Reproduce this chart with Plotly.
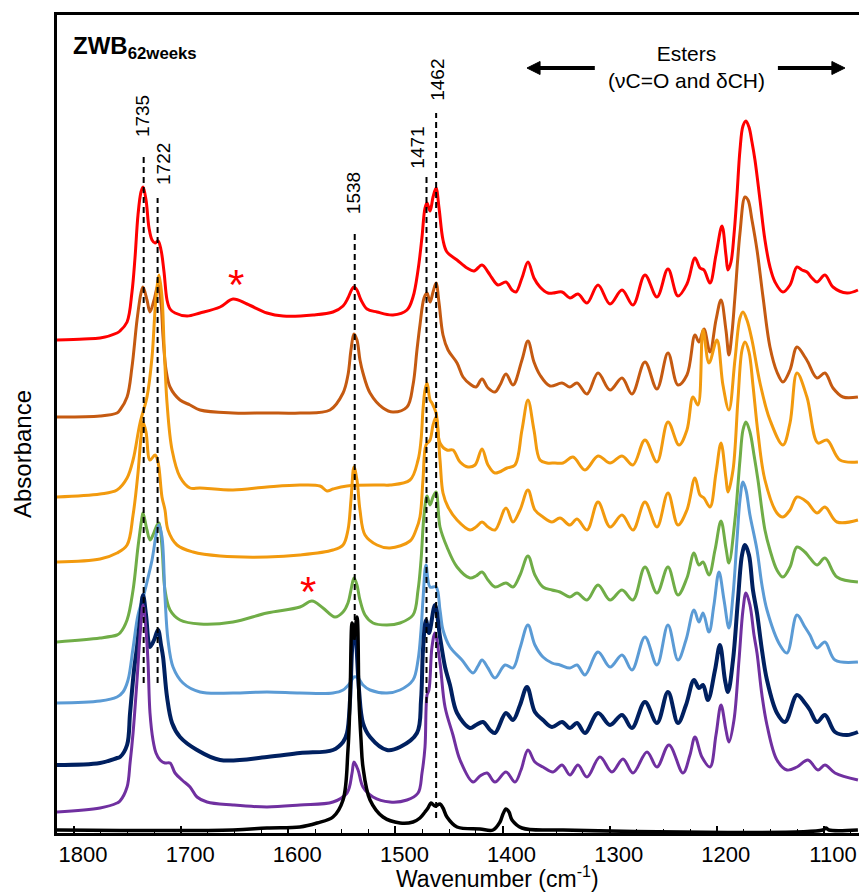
import plotly.graph_objects as go

# ---------------- data (wavenumber in cm-1, absorbance in offset arbitrary units) ----------------
wn_red = [1816.8, 1790.7, 1775.7, 1759.9, 1757.1, 1750.5, 1745.9, 1743.1, 1740.3, 1737.5, 1735.6, 1732.8, 1730.0, 1727.2, 1724.4, 1721.6, 1718.8, 1716.0, 1713.2, 1710.4, 1705.7, 1694.5, 1682.4, 1663.7, 1651.6, 1638.5, 1619.9, 1604.9, 1576.9, 1558.3, 1548.9, 1544.3, 1540.5, 1538.7, 1535.9, 1532.1, 1526.5, 1517.2, 1502.3, 1489.2, 1483.6, 1478.9, 1475.2, 1472.4, 1470.5, 1467.7, 1464.9, 1462.1, 1459.3, 1455.6, 1451.9, 1442.5, 1433.2, 1426.7, 1419.2, 1413.6, 1409.9, 1404.3, 1396.8, 1391.2, 1387.5, 1381.9, 1376.3, 1370.7, 1365.1, 1357.6, 1352.9, 1344.5, 1337.1, 1329.6, 1321.2, 1310.9, 1299.7, 1288.5, 1278.3, 1267.1, 1255.9, 1245.6, 1236.3, 1227.9, 1220.4, 1215.7, 1212.0, 1206.4, 1200.8, 1195.2, 1191.5, 1189.6, 1186.8, 1184.0, 1181.2, 1178.4, 1175.6, 1172.8, 1170.0, 1167.2, 1164.4, 1159.7, 1155.1, 1150.4, 1145.7, 1138.3, 1131.7, 1125.2, 1120.5, 1115.9, 1111.2, 1106.5, 1099.1, 1091.6, 1078.5, 1068.3]
abs_red = [4.93, 4.94, 4.95, 5.00, 5.02, 5.11, 5.41, 5.75, 6.18, 6.41, 6.46, 6.33, 6.05, 5.93, 5.90, 5.92, 5.83, 5.61, 5.33, 5.24, 5.20, 5.17, 5.20, 5.26, 5.34, 5.29, 5.20, 5.17, 5.18, 5.21, 5.27, 5.35, 5.44, 5.46, 5.43, 5.33, 5.24, 5.21, 5.18, 5.23, 5.36, 5.63, 5.96, 6.25, 6.30, 6.22, 6.36, 6.45, 6.25, 5.93, 5.81, 5.73, 5.65, 5.62, 5.68, 5.61, 5.55, 5.48, 5.51, 5.43, 5.41, 5.55, 5.71, 5.55, 5.46, 5.40, 5.40, 5.41, 5.35, 5.39, 5.30, 5.48, 5.29, 5.43, 5.28, 5.58, 5.36, 5.64, 5.37, 5.49, 5.75, 5.65, 5.63, 5.50, 5.78, 6.07, 5.78, 5.63, 5.71, 5.98, 6.38, 6.83, 7.07, 7.12, 7.06, 6.91, 6.73, 6.33, 5.93, 5.66, 5.51, 5.41, 5.48, 5.66, 5.63, 5.61, 5.55, 5.51, 5.58, 5.46, 5.40, 5.43]

wn_brown = [1816.8, 1775.7, 1759.9, 1757.1, 1750.5, 1745.9, 1741.2, 1737.5, 1735.6, 1731.9, 1729.1, 1725.3, 1721.6, 1718.8, 1716.9, 1714.1, 1710.4, 1701.1, 1691.7, 1682.4, 1651.6, 1619.9, 1589.1, 1561.1, 1548.9, 1544.3, 1541.5, 1538.7, 1535.9, 1533.1, 1530.3, 1523.7, 1511.6, 1502.3, 1489.2, 1483.6, 1479.9, 1477.1, 1473.3, 1470.5, 1467.7, 1464.9, 1462.1, 1459.3, 1455.6, 1450.9, 1442.5, 1436.9, 1430.4, 1424.8, 1419.2, 1413.6, 1407.1, 1402.4, 1396.8, 1390.3, 1381.9, 1376.3, 1370.7, 1365.1, 1355.7, 1344.5, 1337.1, 1330.5, 1321.2, 1310.9, 1299.7, 1288.5, 1279.2, 1267.1, 1255.9, 1245.6, 1236.3, 1227.9, 1220.4, 1216.7, 1212.0, 1206.4, 1200.8, 1196.1, 1191.5, 1188.7, 1185.9, 1183.1, 1178.4, 1173.7, 1170.9, 1167.2, 1162.5, 1156.9, 1150.4, 1143.9, 1138.3, 1131.7, 1125.2, 1117.8, 1115.0, 1106.5, 1099.1, 1091.6, 1082.3, 1068.3]
abs_brown = [4.16, 4.17, 4.20, 4.23, 4.36, 4.66, 5.13, 5.40, 5.46, 5.33, 5.21, 5.33, 5.48, 5.30, 4.96, 4.63, 4.46, 4.33, 4.28, 4.23, 4.20, 4.20, 4.20, 4.23, 4.40, 4.58, 4.83, 4.99, 4.93, 4.73, 4.60, 4.40, 4.25, 4.21, 4.26, 4.48, 4.83, 5.08, 5.35, 5.40, 5.31, 5.41, 5.50, 5.30, 4.98, 4.83, 4.70, 4.56, 4.49, 4.46, 4.54, 4.45, 4.41, 4.48, 4.59, 4.48, 4.73, 4.92, 4.71, 4.58, 4.47, 4.50, 4.46, 4.50, 4.39, 4.60, 4.43, 4.55, 4.39, 4.71, 4.44, 4.80, 4.48, 4.58, 4.98, 4.91, 5.04, 4.81, 5.13, 5.33, 5.03, 4.78, 5.00, 5.36, 6.00, 6.36, 6.33, 6.13, 5.83, 5.36, 4.86, 4.61, 4.51, 4.63, 4.86, 4.76, 4.71, 4.55, 4.60, 4.45, 4.36, 4.36]

wn_orange_a = [1816.8, 1775.7, 1759.9, 1750.5, 1744.9, 1738.4, 1731.9, 1727.2, 1724.4, 1722.5, 1720.7, 1717.9, 1716.0, 1713.2, 1708.5, 1701.1, 1691.7, 1682.4, 1651.6, 1619.9, 1589.1, 1570.4, 1563.9, 1558.3, 1545.2, 1514.4, 1505.1, 1486.4, 1478.9, 1476.1, 1474.3, 1472.4, 1470.5, 1467.7, 1465.9, 1462.1, 1458.4, 1451.9, 1446.3, 1439.7, 1432.3, 1425.7, 1419.2, 1413.6, 1407.1, 1395.8, 1388.4, 1381.9, 1376.3, 1370.7, 1365.1, 1358.5, 1351.1, 1343.6, 1334.3, 1323.1, 1310.9, 1299.7, 1288.5, 1278.3, 1267.1, 1255.9, 1245.6, 1235.3, 1227.9, 1222.3, 1217.6, 1212.9, 1207.3, 1199.9, 1194.3, 1188.7, 1183.1, 1178.4, 1175.6, 1171.9, 1167.2, 1159.7, 1150.4, 1138.3, 1131.7, 1125.2, 1115.9, 1105.6, 1097.2, 1085.1, 1068.3]
abs_orange_a = [3.36, 3.39, 3.43, 3.55, 3.73, 4.10, 4.36, 4.76, 5.23, 5.46, 5.58, 5.36, 4.90, 4.30, 3.83, 3.56, 3.45, 3.45, 3.43, 3.46, 3.48, 3.47, 3.42, 3.44, 3.47, 3.48, 3.48, 3.53, 3.73, 3.93, 4.23, 4.43, 4.50, 4.33, 4.30, 4.20, 3.90, 3.83, 3.83, 3.71, 3.66, 3.68, 3.84, 3.68, 3.60, 3.65, 3.68, 4.03, 4.33, 4.03, 3.73, 3.70, 3.70, 3.70, 3.76, 3.63, 3.77, 3.70, 3.77, 3.68, 3.93, 3.71, 4.11, 3.88, 4.03, 4.36, 4.28, 5.03, 4.70, 4.93, 4.48, 4.23, 4.73, 5.15, 5.21, 5.13, 4.93, 4.50, 4.13, 3.88, 4.10, 4.60, 4.36, 3.90, 3.93, 3.73, 3.71]

wn_orange_b = [1816.8, 1775.7, 1759.9, 1750.5, 1744.9, 1740.3, 1737.5, 1735.6, 1732.8, 1729.1, 1724.4, 1721.6, 1717.9, 1715.1, 1712.3, 1703.9, 1688.9, 1663.7, 1619.9, 1589.1, 1558.3, 1548.9, 1544.3, 1541.5, 1538.7, 1535.9, 1533.1, 1528.4, 1517.2, 1505.1, 1486.4, 1480.8, 1477.1, 1474.3, 1471.5, 1467.7, 1464.9, 1462.1, 1458.4, 1455.6, 1450.9, 1442.5, 1430.4, 1424.8, 1419.2, 1413.6, 1407.1, 1396.8, 1390.3, 1383.7, 1376.3, 1369.8, 1362.3, 1353.9, 1346.4, 1337.1, 1330.5, 1321.2, 1310.9, 1299.7, 1288.5, 1278.3, 1267.1, 1255.9, 1245.6, 1236.3, 1227.9, 1220.4, 1215.7, 1212.0, 1206.4, 1200.8, 1196.1, 1191.5, 1189.6, 1184.9, 1180.3, 1176.5, 1173.7, 1170.0, 1166.3, 1161.6, 1155.1, 1143.9, 1138.3, 1131.7, 1125.2, 1115.9, 1106.5, 1099.1, 1087.9, 1068.3]
abs_orange_b = [2.71, 2.74, 2.80, 2.88, 3.18, 3.60, 3.96, 4.11, 4.01, 3.73, 3.78, 3.71, 3.36, 3.23, 3.03, 2.88, 2.81, 2.77, 2.76, 2.78, 2.83, 2.88, 3.03, 3.33, 3.66, 3.53, 3.23, 2.98, 2.88, 2.85, 2.92, 3.03, 3.16, 3.53, 3.88, 3.93, 4.08, 4.16, 3.73, 3.40, 3.26, 3.13, 3.03, 3.06, 3.11, 3.06, 3.03, 3.25, 3.11, 3.23, 3.43, 3.23, 3.16, 3.11, 3.15, 3.08, 3.14, 3.03, 3.31, 3.06, 3.18, 3.03, 3.31, 3.06, 3.40, 3.08, 3.23, 3.55, 3.38, 3.35, 3.26, 3.60, 3.90, 3.55, 3.41, 3.63, 4.33, 4.83, 4.91, 4.81, 4.48, 4.00, 3.53, 3.20, 3.16, 3.23, 3.36, 3.31, 3.20, 3.26, 3.11, 3.13]

wn_green = [1816.8, 1775.7, 1759.9, 1757.1, 1750.5, 1744.9, 1740.3, 1736.5, 1735.6, 1731.9, 1729.1, 1726.3, 1722.5, 1720.7, 1717.9, 1715.1, 1710.4, 1701.1, 1682.4, 1651.6, 1619.9, 1589.1, 1577.9, 1567.6, 1556.4, 1548.9, 1544.3, 1541.5, 1538.7, 1535.9, 1533.1, 1528.4, 1520.9, 1507.9, 1495.7, 1483.6, 1478.9, 1476.1, 1473.3, 1470.5, 1467.7, 1464.9, 1462.1, 1458.4, 1451.9, 1442.5, 1430.4, 1424.8, 1419.2, 1413.6, 1407.1, 1396.8, 1390.3, 1383.7, 1376.3, 1369.8, 1362.3, 1353.9, 1346.4, 1337.1, 1330.5, 1321.2, 1310.9, 1299.7, 1288.5, 1278.3, 1267.1, 1255.9, 1245.6, 1236.3, 1227.9, 1221.3, 1216.7, 1212.9, 1207.3, 1201.7, 1196.1, 1191.5, 1188.7, 1183.1, 1178.4, 1175.6, 1172.8, 1169.1, 1165.3, 1161.6, 1155.1, 1150.4, 1143.9, 1138.3, 1131.7, 1125.2, 1117.8, 1113.1, 1106.5, 1099.1, 1087.9, 1068.3]
abs_green = [1.91, 1.95, 1.98, 2.00, 2.13, 2.43, 2.86, 3.16, 3.20, 3.03, 2.93, 2.98, 3.08, 3.10, 2.86, 2.43, 2.23, 2.13, 2.09, 2.11, 2.20, 2.26, 2.32, 2.25, 2.16, 2.21, 2.30, 2.43, 2.55, 2.48, 2.33, 2.18, 2.10, 2.08, 2.10, 2.18, 2.43, 2.73, 3.18, 3.37, 3.28, 3.36, 3.41, 3.06, 2.86, 2.66, 2.55, 2.57, 2.61, 2.53, 2.46, 2.50, 2.46, 2.58, 2.77, 2.58, 2.46, 2.43, 2.41, 2.36, 2.40, 2.33, 2.48, 2.33, 2.43, 2.33, 2.66, 2.40, 2.66, 2.38, 2.55, 2.80, 2.68, 2.71, 2.58, 2.83, 3.12, 2.85, 2.70, 3.13, 3.73, 4.03, 4.11, 4.01, 3.78, 3.53, 3.03, 2.83, 2.63, 2.56, 2.66, 2.86, 2.81, 2.75, 2.68, 2.75, 2.56, 2.51]

wn_lightblue = [1816.8, 1775.7, 1759.9, 1754.3, 1749.6, 1744.9, 1740.3, 1735.6, 1731.9, 1727.2, 1722.5, 1720.7, 1717.9, 1715.1, 1712.3, 1707.6, 1698.3, 1682.4, 1651.6, 1619.9, 1589.1, 1558.3, 1548.9, 1542.4, 1538.7, 1534.9, 1530.3, 1523.7, 1507.9, 1495.7, 1483.6, 1478.9, 1476.1, 1474.3, 1471.5, 1467.7, 1462.1, 1458.4, 1455.6, 1449.1, 1437.9, 1427.6, 1422.9, 1419.2, 1413.6, 1407.1, 1397.7, 1390.3, 1383.7, 1376.3, 1369.8, 1362.3, 1353.9, 1346.4, 1337.1, 1330.5, 1323.1, 1310.9, 1299.7, 1288.5, 1279.2, 1267.1, 1255.9, 1245.6, 1236.3, 1228.8, 1221.3, 1216.7, 1212.9, 1207.3, 1202.7, 1198.0, 1193.3, 1188.7, 1184.9, 1181.2, 1178.4, 1175.6, 1172.8, 1169.1, 1162.5, 1157.9, 1153.2, 1141.1, 1134.5, 1125.2, 1117.8, 1113.1, 1106.5, 1099.1, 1089.7, 1068.3]
abs_lightblue = [1.30, 1.32, 1.36, 1.41, 1.53, 1.85, 2.18, 2.35, 2.51, 2.73, 3.03, 3.08, 2.96, 2.36, 1.93, 1.66, 1.50, 1.41, 1.40, 1.41, 1.40, 1.40, 1.43, 1.50, 1.56, 1.55, 1.48, 1.43, 1.40, 1.43, 1.53, 1.73, 2.03, 2.33, 2.68, 2.46, 2.46, 2.23, 2.03, 1.86, 1.73, 1.60, 1.67, 1.73, 1.65, 1.55, 1.68, 1.65, 1.85, 2.08, 1.88, 1.76, 1.70, 1.68, 1.65, 1.68, 1.58, 1.81, 1.66, 1.78, 1.63, 1.96, 1.68, 2.08, 1.73, 1.93, 2.23, 2.11, 2.20, 2.01, 2.28, 2.61, 2.33, 2.05, 2.38, 2.93, 3.33, 3.51, 3.43, 3.18, 2.83, 2.48, 2.23, 1.88, 1.80, 2.18, 2.06, 1.98, 1.85, 1.91, 1.73, 1.71]

wn_navy = [1816.8, 1775.7, 1759.9, 1757.1, 1750.5, 1747.7, 1744.0, 1741.2, 1738.4, 1735.6, 1732.8, 1729.1, 1725.3, 1721.6, 1718.8, 1716.9, 1713.2, 1708.5, 1701.1, 1685.2, 1663.7, 1619.9, 1589.1, 1558.3, 1548.9, 1545.2, 1542.4, 1540.5, 1538.7, 1536.8, 1534.0, 1530.3, 1523.7, 1507.9, 1495.7, 1479.9, 1476.1, 1474.3, 1471.5, 1468.7, 1463.1, 1458.4, 1453.7, 1449.1, 1442.5, 1430.4, 1424.8, 1418.3, 1411.7, 1407.1, 1396.8, 1390.3, 1383.7, 1377.2, 1369.8, 1362.3, 1353.9, 1344.5, 1337.1, 1330.5, 1323.1, 1310.9, 1299.7, 1288.5, 1279.2, 1267.1, 1255.9, 1245.6, 1236.3, 1228.8, 1221.3, 1216.7, 1212.9, 1208.3, 1201.7, 1197.1, 1192.4, 1189.6, 1184.9, 1180.3, 1176.5, 1173.7, 1170.0, 1166.3, 1162.5, 1157.9, 1153.2, 1143.9, 1136.4, 1125.2, 1117.8, 1113.1, 1106.5, 1099.1, 1089.7, 1078.5, 1068.3]
abs_navy = [0.68, 0.70, 0.75, 0.76, 0.88, 1.20, 1.63, 1.86, 2.13, 2.38, 2.18, 1.86, 1.93, 2.03, 1.88, 1.76, 1.36, 1.10, 0.96, 0.83, 0.73, 0.76, 0.80, 0.83, 0.91, 1.00, 1.33, 1.83, 2.08, 1.93, 1.43, 1.10, 0.96, 0.83, 0.86, 1.00, 1.33, 1.83, 2.13, 2.00, 2.28, 1.96, 1.66, 1.48, 1.20, 1.05, 1.08, 1.11, 1.03, 1.00, 1.20, 1.13, 1.28, 1.46, 1.21, 1.13, 1.06, 1.11, 1.05, 1.10, 1.00, 1.20, 1.08, 1.18, 1.05, 1.31, 1.10, 1.41, 1.10, 1.28, 1.53, 1.45, 1.48, 1.33, 1.63, 1.88, 1.53, 1.41, 1.73, 2.33, 2.78, 2.88, 2.78, 2.43, 2.20, 1.83, 1.53, 1.20, 1.11, 1.38, 1.30, 1.23, 1.11, 1.18, 1.01, 0.98, 1.01]

wn_purple = [1816.8, 1775.7, 1759.9, 1757.1, 1750.5, 1747.7, 1744.9, 1741.2, 1738.4, 1735.6, 1732.8, 1730.9, 1729.1, 1726.3, 1723.5, 1719.7, 1715.1, 1710.4, 1705.7, 1699.2, 1691.7, 1685.2, 1675.9, 1651.6, 1619.9, 1589.1, 1558.3, 1545.2, 1540.5, 1538.7, 1534.9, 1530.3, 1520.9, 1505.1, 1489.2, 1478.9, 1475.2, 1472.4, 1470.5, 1468.7, 1465.9, 1463.1, 1458.4, 1453.7, 1446.3, 1439.7, 1427.6, 1421.1, 1414.5, 1407.1, 1396.8, 1388.4, 1382.8, 1376.3, 1369.8, 1362.3, 1352.9, 1344.5, 1337.1, 1329.6, 1321.2, 1309.1, 1297.9, 1287.6, 1278.3, 1265.2, 1255.9, 1244.7, 1231.6, 1225.1, 1220.4, 1213.9, 1206.4, 1200.8, 1196.1, 1191.5, 1188.7, 1184.0, 1179.3, 1175.6, 1172.8, 1169.1, 1165.3, 1162.5, 1157.9, 1153.2, 1143.9, 1134.5, 1125.2, 1115.0, 1105.6, 1099.1, 1089.7, 1068.3]
abs_purple = [0.21, 0.25, 0.30, 0.32, 0.46, 0.70, 1.00, 1.53, 1.98, 2.28, 2.03, 1.70, 1.20, 0.93, 0.80, 0.73, 0.70, 0.70, 0.60, 0.53, 0.46, 0.36, 0.31, 0.28, 0.26, 0.28, 0.31, 0.40, 0.60, 0.71, 0.63, 0.46, 0.36, 0.31, 0.33, 0.40, 0.60, 0.86, 1.38, 1.43, 1.86, 2.00, 1.70, 1.26, 0.98, 0.73, 0.51, 0.57, 0.60, 0.51, 0.61, 0.51, 0.63, 0.83, 0.71, 0.66, 0.61, 0.68, 0.58, 0.68, 0.56, 0.76, 0.61, 0.74, 0.60, 0.81, 0.66, 0.88, 0.60, 0.78, 0.96, 0.76, 0.66, 0.98, 1.28, 1.03, 0.91, 1.13, 1.73, 2.23, 2.40, 2.28, 1.98, 1.80, 1.38, 1.08, 0.73, 0.63, 0.66, 0.73, 0.63, 0.68, 0.60, 0.53]

wn_black = [1816.8, 1651.6, 1619.9, 1589.1, 1573.2, 1558.3, 1548.9, 1544.3, 1542.4, 1540.5, 1538.7, 1535.9, 1534.0, 1532.1, 1530.3, 1523.7, 1511.6, 1495.7, 1483.6, 1477.1, 1472.4, 1469.6, 1466.8, 1463.1, 1458.4, 1455.6, 1451.9, 1442.5, 1421.1, 1408.9, 1402.4, 1399.6, 1396.8, 1394.0, 1391.2, 1381.9, 1343.6, 1101.0, 1098.2, 1095.4, 1068.3]
abs_black = [0.03, 0.03, 0.05, 0.06, 0.10, 0.16, 0.33, 0.83, 1.33, 2.10, 1.95, 2.16, 1.33, 0.93, 0.66, 0.33, 0.16, 0.10, 0.11, 0.15, 0.21, 0.25, 0.30, 0.27, 0.29, 0.25, 0.16, 0.06, 0.04, 0.03, 0.11, 0.19, 0.24, 0.21, 0.13, 0.05, 0.03, 0.03, 0.05, 0.03, 0.03]

# marked bands: label, wavenumber, dashed line bottom / top (absorbance units)
band_labels = ["1735", "1722", "1538", "1471", "1462"]
band_wn = [1735, 1722, 1538, 1471, 1462]
band_low = [1.50, 1.50, 1.93, 1.30, 0.15]
band_high = [6.78, 6.35, 6.01, 6.56, 7.20]

x_ticks = [1800, 1700, 1600, 1500, 1400, 1300, 1200, 1100]

series = [
    (wn_red, abs_red, "#FF0000", 3),
    (wn_brown, abs_brown, "#C55A11", 3),
    (wn_orange_a, abs_orange_a, "#F29A0E", 3),
    (wn_orange_b, abs_orange_b, "#F29A0E", 3),
    (wn_green, abs_green, "#70AD47", 3),
    (wn_lightblue, abs_lightblue, "#5B9BD5", 3),
    (wn_navy, abs_navy, "#002060", 4),
    (wn_purple, abs_purple, "#7030A0", 3),
    (wn_black, abs_black, "#000000", 3.5),
]

FONT = "Liberation Sans, Arial, sans-serif"

fig = go.Figure()
for wn, ab, col, w in series:
    fig.add_trace(go.Scatter(x=wn, y=ab, mode="lines",
                             line=dict(color=col, width=w, shape="spline", smoothing=1.0),
                             showlegend=False, hoverinfo="skip"))

shapes = []
for w, lo, hi in zip(band_wn, band_low, band_high):
    shapes.append(dict(type="line", xref="x", yref="y", x0=w, x1=w, y0=lo, y1=hi,
                       line=dict(color="black", width=2, dash="6px,4px")))

# "Esters" double arrow (two shafts with filled heads)
arrow_y = 7.65
shapes.append(dict(type="line", xref="x", yref="y", x0=1313.9, x1=1369.0, y0=arrow_y, y1=arrow_y,
                   line=dict(color="black", width=4)))
shapes.append(dict(type="path", xref="x", yref="y",
                   path="M 1377.2,7.65 L 1365.0,7.715 L 1365.0,7.585 Z",
                   fillcolor="black", line=dict(color="black", width=1)))
shapes.append(dict(type="line", xref="x", yref="y", x0=1143.0, x1=1088.6, y0=arrow_y, y1=arrow_y,
                   line=dict(color="black", width=4)))
shapes.append(dict(type="path", xref="x", yref="y",
                   path="M 1080.4,7.65 L 1092.6,7.715 L 1092.6,7.585 Z",
                   fillcolor="black", line=dict(color="black", width=1)))

label_x = [1736.0, 1717.0, 1539.0, 1480.2, 1461.4]
label_y = [7.165, 6.69, 6.395, 6.85, 7.53]
annotations = []
for t, lx, ly in zip(band_labels, label_x, label_y):
    annotations.append(dict(x=lx, y=ly, xref="x", yref="y", text=t, showarrow=False,
                            textangle=-90, font=dict(family=FONT, size=19, color="black"),
                            xanchor="center", yanchor="middle"))

# asterisks
annotations.append(dict(x=1648.8, y=5.58, xref="x", yref="y", text="*", showarrow=False,
                        font=dict(family=FONT, size=42, color="#FF0000"), yshift=-9))
annotations.append(dict(x=1581.6, y=2.51, xref="x", yref="y", text="*", showarrow=False,
                        font=dict(family=FONT, size=42, color="#FF0000"), yshift=-9))

# Esters label
annotations.append(dict(x=1228.3, y=7.66, xref="x", yref="y",
                        text="Esters<br>(\u03bdC=O and \u03b4CH)", showarrow=False,
                        font=dict(family=FONT, size=21, color="black")))

# sample name
annotations.append(dict(x=1800, y=7.86, xref="x", yref="y", text="<b>ZWB<sub>62weeks</sub></b>",
                        showarrow=False, xanchor="left", yanchor="middle", xshift=-3,
                        font=dict(family=FONT, size=24, color="black")))

# axis titles
annotations.append(dict(x=1405.2, y=-0.054, xref="x", yref="paper",
                        text="Wavenumber (cm<sup>-1</sup>)", showarrow=False,
                        font=dict(family=FONT, size=23, color="black"), yanchor="middle"))
annotations.append(dict(x=-0.0436, y=0.4633, xref="paper", yref="paper", text="Absorbance",
                        showarrow=False, textangle=-90,
                        font=dict(family=FONT, size=24, color="black"),
                        xanchor="center", yanchor="middle"))

fig.update_layout(
    width=859, height=893,
    margin=dict(l=57, r=0, t=15, b=60),
    paper_bgcolor="white", plot_bgcolor="white",
    shapes=shapes, annotations=annotations,
    xaxis=dict(range=[1815.9, 1067.3], tickvals=x_ticks, ticktext=[str(v) for v in x_ticks],
               showgrid=False, zeroline=False, showline=True, linecolor="black", linewidth=3,
               mirror=True, ticks="inside", ticklen=7, tickwidth=1.5, tickcolor="black",
               ticklabelshift=-9,
               minor=dict(dtick=25, tick0=1800, ticks="inside", ticklen=4, tickwidth=1.2,
                          tickcolor="black", showgrid=False),
               tickfont=dict(family=FONT, size=22, color="black")),
    yaxis=dict(range=[0, 8.18], showgrid=False, zeroline=False, showline=True,
               linecolor="black", linewidth=3, showticklabels=False, ticks=""),
)

fig.write_html("out.html", config={"displayModeBar": False},
               post_script="document.body.style.margin='0';document.body.style.overflow='hidden';")
